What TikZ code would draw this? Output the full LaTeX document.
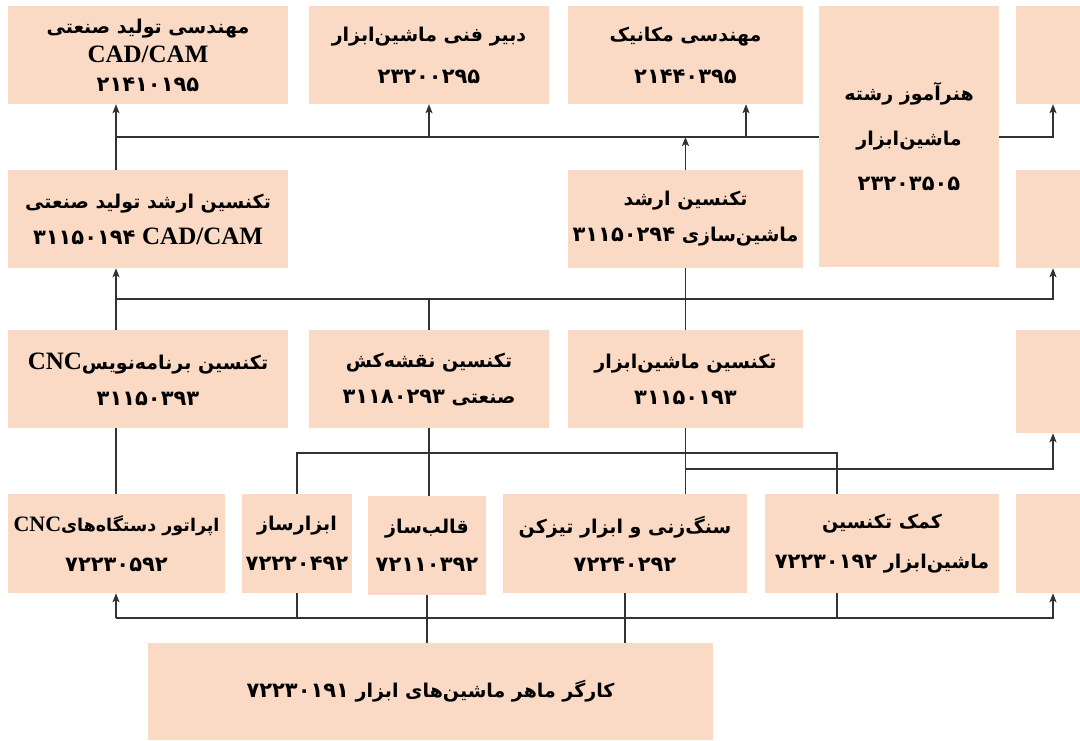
\documentclass[tikz,border=0pt]{standalone}
\usepackage{fontspec}
\usetikzlibrary{arrows.meta}
\TeXXeTstate=1
\newfontfamily\fafont[Script=Arabic]{DejaVu Sans}
\newfontfamily\latfont{Liberation Serif}
\newcommand{\fa}[1]{\beginR #1\endR}
\newcommand{\lat}[2][25]{{\latfont\bfseries\fontsize{#1}{#1}\selectfont #2}}
\newcommand{\num}[1]{{\fontsize{21}{21}\selectfont #1}}
\definecolor{peach}{RGB}{250,218,196}
\definecolor{linegray}{RGB}{50,50,50}
\tikzset{
	box/.style={fill=peach, inner sep=0pt, align=center,
		font=\fafont\bfseries\fontsize{19}{36}\selectfont},
	link/.style={draw=linegray, line width=1.4pt},
	up/.style={link, -{Stealth[length=9pt, width=7pt, inset=2pt]}}
}

\begin{document}
\begin{tikzpicture}[x=1pt, y=-1pt]
	\useasboundingbox (0,0) rectangle (1080,740);
	% Spalten und Sammelschienen
	\coordinate (xl) at (116,0);
	\coordinate (xm) at (746,0);
	\coordinate (xk) at (837,0);
	\coordinate (xr) at (1053,0);
	\coordinate (r1) at (0,137);
	\coordinate (r2) at (0,299);
	\coordinate (r3) at (0,453);
	\coordinate (r4) at (0,469);
	\coordinate (r5) at (0,618);

	% Reihe 1
	\node[box, minimum width=280, minimum height=98] (a1) at (148,55)
		{\fa{مهندسی تولید صنعتی}\\[-7pt] \lat{CAD/CAM}\\[-7pt] \fa{\num{۲۱۴۱۰۱۹۵}}};
	\node[box, minimum width=240, minimum height=98] (a2) at (429,55)
		{\fa{دبیر فنی ماشین^^^^200cابزار}\\[6pt] \fa{\num{۲۳۲۰۰۲۹۵}}};
	\node[box, minimum width=235, minimum height=98] (a3) at (685.5,55)
		{\fa{مهندسی مکانیک}\\[6pt] \fa{\num{۲۱۴۴۰۳۹۵}}};
	\node[box, minimum width=180, minimum height=261] (a4) at (909,136.5)
		{\fa{هنرآموز رشته}\\[9pt] \fa{ماشین^^^^200cابزار}\\[9pt] \fa{\num{۲۳۲۰۳۵۰۵}}};
	\node[box, minimum width=64, minimum height=98] (a5) at (1048,55) {};

	% Reihe 2
	\node[box, minimum width=280, minimum height=98] (b1) at (148,219)
		{\fa{تکنسین ارشد تولید صنعتی}\\ \fa{\lat{CAD/CAM} \num{۳۱۱۵۰۱۹۴}}};
	\node[box, minimum width=235, minimum height=98] (b2) at (685.5,219)
		{\fa{تکنسین ارشد}\\ \fa{ماشین^^^^200cسازی \num{۳۱۱۵۰۲۹۴}}};
	\node[box, minimum width=64, minimum height=98] (b5) at (1048,219) {};

	% Reihe 3
	\node[box, minimum width=280, minimum height=98] (c1) at (148,379)
		{\fa{تکنسین برنامه^^^^200cنویس\lat{CNC}}\\ \fa{\num{۳۱۱۵۰۳۹۳}}};
	\node[box, minimum width=240, minimum height=98] (c2) at (429,379)
		{\fa{تکنسین نقشه^^^^200cکش}\\ \fa{صنعتی \num{۳۱۱۸۰۲۹۳}}};
	\node[box, minimum width=235, minimum height=98] (c3) at (685.5,379)
		{\fa{تکنسین ماشین^^^^200cابزار}\\ \fa{\num{۳۱۱۵۰۱۹۳}}};
	\node[box, minimum width=64, minimum height=103] (c5) at (1048,381.5) {};

	% Reihe 4
	\node[box, minimum width=217, minimum height=99, font=\fafont\bfseries\fontsize{17.5}{36}\selectfont]
		(d1) at (116.5,543.5)
		{\fa{اپراتور دستگاه^^^^200cهای\lat[22]{CNC}}\\[4pt] \fa{\num{۷۲۲۳۰۵۹۲}}};
	\node[box, minimum width=110, minimum height=99] (d2) at (297,543.5)
		{\fa{ابزارساز}\\[4pt] \fa{\num{۷۲۲۲۰۴۹۲}}};
	\node[box, minimum width=118, minimum height=99] (d3) at (427,545.5)
		{\fa{قالب^^^^200cساز}\\[2pt] \fa{\num{۷۲۱۱۰۳۹۲}}};
	\node[box, minimum width=244, minimum height=99] (d4) at (625,543.5)
		{\fa{سنگ^^^^200cزنی و ابزار تیزکن}\\[2pt] \fa{\num{۷۲۲۴۰۲۹۲}}};
	\node[box, minimum width=234, minimum height=99] (d5) at (882,543.5)
		{\fa{کمک تکنسین}\\[4pt] \fa{ماشین^^^^200cابزار \num{۷۲۲۳۰۱۹۲}}};
	\node[box, minimum width=64, minimum height=99] (d6) at (1048,543.5) {};

	% Reihe 5
	\node[box, minimum width=565, minimum height=97] (e) at (430.5,691.5)
		{\fa{کارگر ماهر ماشین^^^^200cهای ابزار \num{۷۲۲۳۰۱۹۱}}};

	% Verbindungen oben
	\draw[up] (b1.north -| xl) -- (a1.south -| xl);
	\draw[link] (xl |- r1) -- (a4.west |- r1);
	\draw[up] (a4.east |- r1) -| (a5.south -| xr);
	\draw[up] (a2.south |- r1) -- (a2.south);
	\draw[up] (xm |- r1) -- (a3.south -| xm);
	\draw[up] (b2.north) -- (b2.north |- r1);

	% Verbindungen Mitte
	\draw[up] (c1.north -| xl) -- (b1.south -| xl);
	\draw[up] (xl |- r2) -| (b5.south -| xr);
	\draw[link] (c2.north) -- (c2.north |- r2);
	\draw[link] (c3.north) -- (b2.south);

	% Verbindungen unten
	\draw[link] (c1.south -| xl) -- (d1.north -| xl);
	\draw[link] (c2.south) -- (c2.south |- d3.north);
	\draw[link] (c3.south) -- (c3.south |- d4.north);
	\draw[link] (d2.north) |- (xk |- r3) -- (d5.north -| xk);
	\draw[up] (c3.south |- r4) -| (c5.south -| xr);

	% Verbindungen ganz unten
	\draw[up] (xl |- r5) -- (d1.south -| xl);
	\draw[up] (xl |- r5) -| (d6.south -| xr);
	\draw[link] (d2.south) -- (d2.south |- r5);
	\draw[link] (d3.south) -- (d3.south |- e.north);
	\draw[link] (d4.south) -- (d4.south |- e.north);
	\draw[link] (d5.south -| xk) -- (xk |- r5);
\end{tikzpicture}
\end{document}
